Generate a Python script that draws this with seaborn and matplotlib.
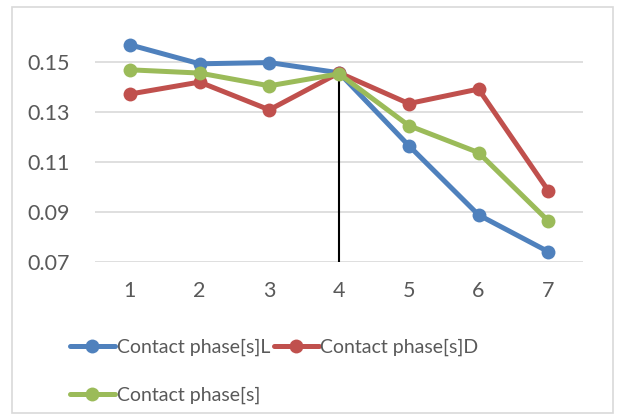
import pandas as pd
import numpy as np
import matplotlib.pyplot as plt
import seaborn as sns
from matplotlib.patches import Rectangle

sns.set_style("white")
plt.rcParams['font.family'] = ['Lato', 'DejaVu Sans']

steps = [1, 2, 3, 4, 5, 6, 7]
contact_L = [0.1567, 0.1491, 0.1496, 0.1455, 0.1164, 0.0887, 0.0740]
contact_D = [0.1370, 0.1418, 0.1307, 0.1455, 0.1332, 0.1390, 0.0984]
contact_all = [0.1467, 0.1454, 0.1403, 0.1451, 0.1244, 0.1136, 0.0863]
names = ["Contact phase[s]L", "Contact phase[s]D", "Contact phase[s]"]
colors = ["#4F81BD", "#C0504D", "#9BBB59"]

df = pd.DataFrame({
    "step": steps * 3,
    "value": contact_L + contact_D + contact_all,
    "series": [names[0]] * 7 + [names[1]] * 7 + [names[2]] * 7,
})

fig = plt.figure(figsize=(6.21, 4.2), dpi=100)
ax = fig.add_axes([0.153, 0.377, 0.786, 0.536])

# outer chart border
fig.patches.append(Rectangle((12 / 621, 7 / 420), 601 / 621, 406 / 420,
                             transform=fig.transFigure, fill=False,
                             edgecolor="#D9D9D9", lw=1.2))

ax.set_ylim(0.07, 0.16)
ax.set_xlim(0.5, 7.5)
ax.set_yticks([0.07, 0.09, 0.11, 0.13, 0.15])
ax.set_xticks(steps)
ax.yaxis.grid(True, color="#D9D9D9", lw=1.2)
ax.set_axisbelow(True)
for s in ax.spines.values():
    s.set_visible(False)

# black vertical marker at step 4
ax.vlines(4, 0.0685, contact_all[3], color="black", lw=1.5, zorder=1)

sns.lineplot(data=df, x="step", y="value", hue="series", palette=colors,
             marker="o", markersize=10, markeredgewidth=0, linewidth=3.6,
             ax=ax, legend=False, zorder=3)

ax.set_xlabel("")
ax.set_ylabel("")
ax.tick_params(axis="both", length=0, labelsize=15.5, labelcolor="#595959")
ax.tick_params(axis="y", pad=18)
ax.tick_params(axis="x", pad=14)
ax.set_yticklabels(["0.07", "0.09", "0.11", "0.13", "0.15"])

handles = [plt.Line2D([], [], color=c, lw=3.6, marker="o", markersize=10,
                      markeredgewidth=0) for c in colors]
# column-major fill: L, all in column 1; D in column 2
order = [0, 2, 1]
leg = fig.legend([handles[i] for i in order], [names[i] for i in order],
                 loc="upper left", bbox_to_anchor=(0.1, 0.213),
                 ncol=2, frameon=False, fontsize=14, handlelength=2.3,
                 handletextpad=0.1, columnspacing=0.2, labelspacing=1.6,
                 borderaxespad=0)
for t in leg.get_texts():
    t.set_color("#595959")

fig.savefig("out.png", dpi=100)
